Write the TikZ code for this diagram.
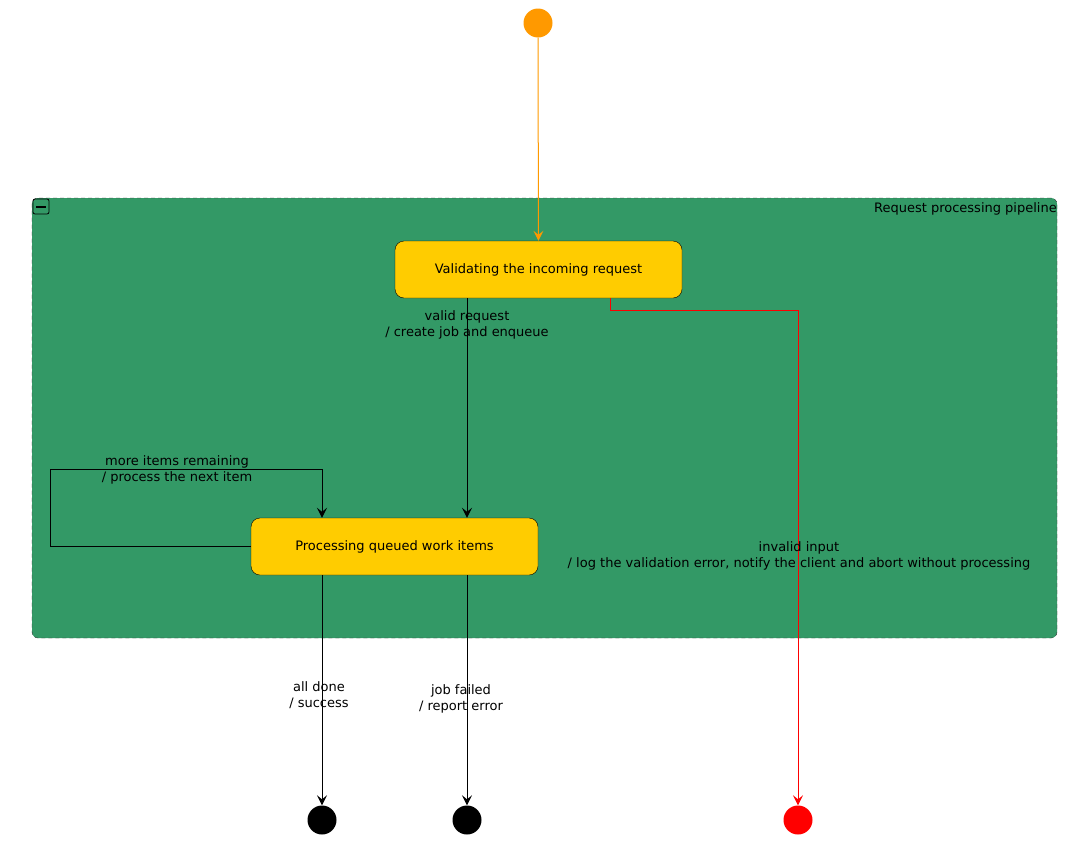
\documentclass[tikz,border=0pt]{standalone}
\usepackage{fontspec}
\setmainfont{DejaVu Sans}
\usetikzlibrary{arrows.meta}
\definecolor{compgreen}{RGB}{51,153,102}
\definecolor{stateyellow}{RGB}{255,204,0}
\definecolor{startorange}{RGB}{255,153,0}

\begin{document}
\begin{tikzpicture}[x=1pt,y=-1pt,
 state/.style={draw=black,fill=stateyellow,rounded corners=9pt,minimum width=287pt,minimum height=57pt,inner sep=0pt,font=\fontsize{13}{15}\selectfont},
 dot/.style={circle,inner sep=0pt,minimum size=29pt},
 lbl/.style={align=center,font=\fontsize{13}{16}\selectfont,inner sep=0pt},
 tr/.style={-{Stealth[length=10pt,width=10pt,inset=4pt]},line width=1pt}]
 \useasboundingbox (0,0) rectangle (1084,846);
 \node[draw=black!80,fill=compgreen,rounded corners=6pt,dash pattern=on 4pt off 3pt,minimum width=1025pt,minimum height=440pt] (comp) at (544.5,418) {};
 \node[draw,rounded corners=2pt,minimum width=16pt,minimum height=15pt,inner sep=0pt,line width=0.8pt] (icon) at (41,206.5) {};
 \draw[line width=2pt] ([xshift=-5pt]icon.center) -- ([xshift=5pt]icon.center);
 \node[anchor=east,lbl] (title) at (1057,209) {Request processing pipeline};

 \node[dot,fill=startorange] (start) at (538,23) {};
 \node[state] (A) at (538.5,269.5) {Validating the incoming request};
 \node[state] (B) at (394.5,546.5) {Processing queued work items};
 \node[dot,fill=black] (end1) at (322,820) {};
 \node[dot,fill=black] (end2) at (467,820) {};
 \node[dot,fill=red] (end3) at (798,820) {};

 \coordinate (ab) at (467,0);
 \coordinate (loop) at (50,469);
 \coordinate (lp) at (322,0);
 \coordinate (rk) at (610,310);

 \draw[tr,startorange] (start) -- (A);
 \draw[tr] (A.south -| ab) -- (B.north -| ab);
 \draw[tr] (B.west) -| (loop) -| (B.north -| lp);
 \draw[tr,red] (A.south -| rk) -- (rk) -| (end3);
 \draw[tr] (B.south -| end1) -- (end1);
 \draw[tr] (B.south -| end2) -- (end2);

 \node[lbl] (lab1) at (467,325) {valid request\\/ create job and enqueue};
 \node[lbl] (lab2) at (177,470) {more items remaining\\/ process the next item};
 \node[lbl] (lab3) at (799,556) {invalid input\\/ log the validation error, notify the client and abort without processing};
 \node[lbl] (lab4) at (319,695) {all done\\/ success};
 \node[lbl] (lab5) at (461,699) {job failed\\/ report error};
\end{tikzpicture}
\end{document}
